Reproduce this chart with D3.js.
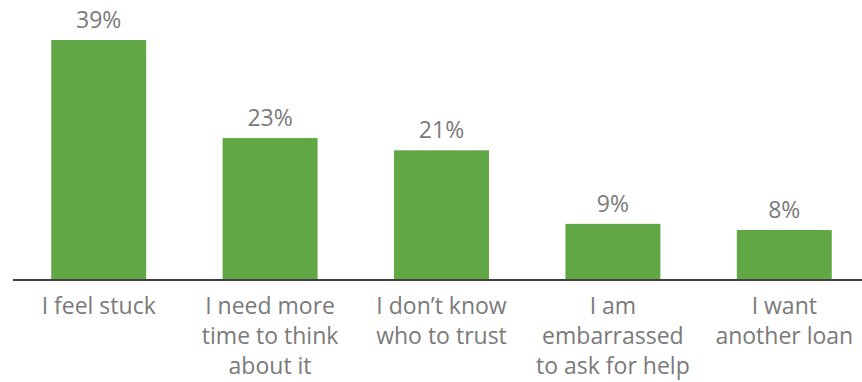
<!DOCTYPE html>
<html>
<head>
<meta charset="utf-8">
<script src="https://cdn.jsdelivr.net/npm/d3@7"></script>
<style>
  body { margin: 0; background: #fff; }
  svg text { font-family: "Open Sans", "Noto Sans", sans-serif; fill: #7a7a7a; }
</style>
</head>
<body>
<div id="chart"></div>
<script>
// chart data
const categories = ["I feel stuck", "I need more time to think about it", "I don\u2019t know who to trust", "I am embarrassed to ask for help", "I want another loan"];
const labelLines = [
    ["I feel stuck"],
    ["I need more", "time to think", "about it"],
    ["I don\u2019t know", "who to trust"],
    ["I am", "embarrassed", "to ask for help"],
    ["I want", "another loan"]
];
const values = [39, 23, 21, 9, 8];

const width = 862, height = 382;
const baseY = 279;

const svg = d3.select("#chart").append("svg")
    .attr("width", width)
    .attr("height", height);

// scales
const x = d3.scaleBand()
    .domain(categories)
    .range([13, 870])
    .paddingInner(0.446)
    .paddingOuter(0.223);

const y = d3.scaleLinear()
    .domain([0, 39])
    .range([baseY, 40]);

// bars
svg.selectAll(".bar")
    .data(values)
  .enter().append("rect")
    .attr("class", "bar")
    .attr("x", (d, i) => x(categories[i]))
    .attr("y", d => y(d))
    .attr("width", x.bandwidth())
    .attr("height", d => baseY - y(d))
    .attr("fill", "#62a745");

// value labels
svg.selectAll(".val")
    .data(values)
  .enter().append("text")
    .attr("class", "val")
    .attr("x", (d, i) => x(categories[i]) + x.bandwidth() / 2)
    .attr("y", d => y(d) - 12)
    .attr("text-anchor", "middle")
    .style("font-size", "23px")
    .text(d => d + "%");

// baseline
svg.append("line")
    .attr("x1", 13).attr("x2", 862)
    .attr("y1", baseY + 1).attr("y2", baseY + 1)
    .attr("stroke", "#404040")
    .attr("stroke-width", 2);

// category labels (wrapped)
const lab = svg.selectAll(".cat")
    .data(categories)
  .enter().append("text")
    .attr("class", "cat")
    .attr("text-anchor", "middle")
    .style("font-size", "23px");

lab.each(function(c, i) {
    const t = d3.select(this);
    labelLines[i].forEach((line, k) => {
        t.append("tspan")
            .attr("x", x(c) + x.bandwidth() / 2)
            .attr("y", 314 + k * 30)
            .text(line);
    });
});
</script>
</body>
</html>
